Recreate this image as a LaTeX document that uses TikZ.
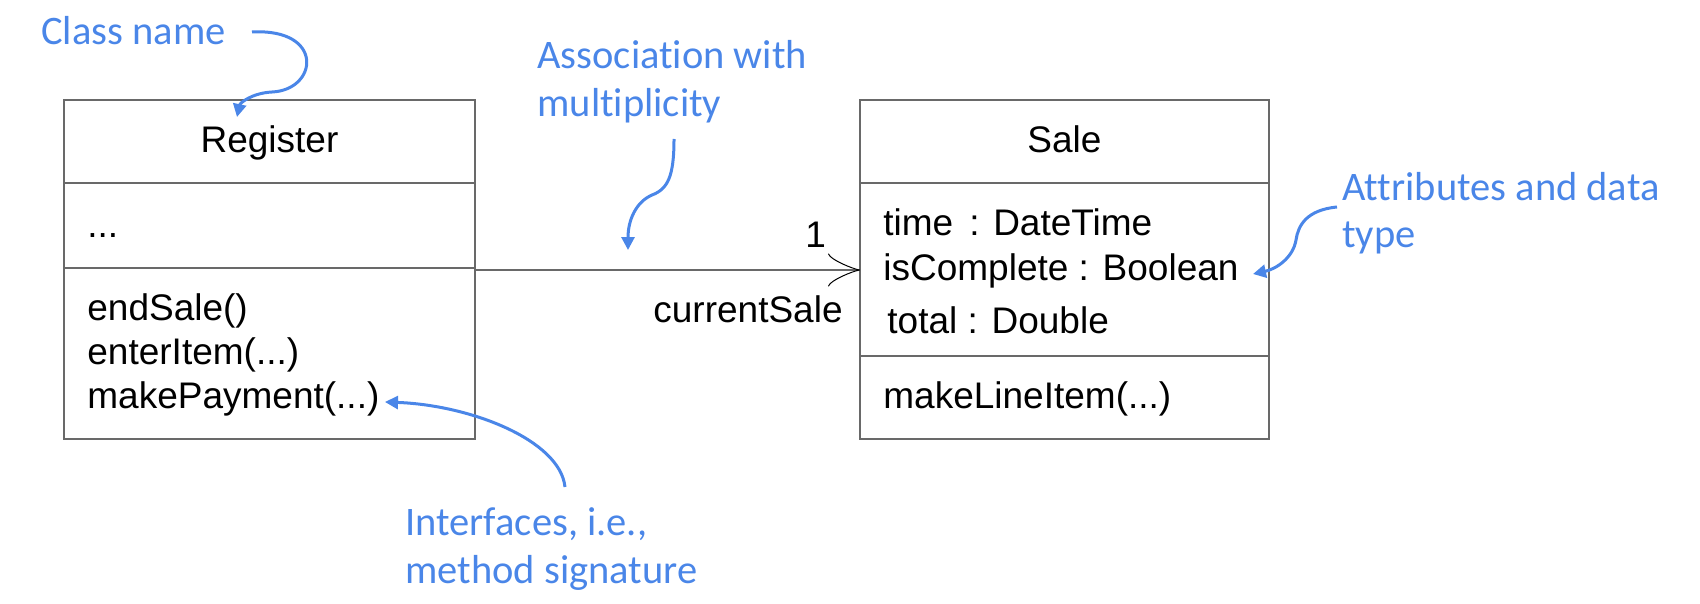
\documentclass[tikz,border=0pt]{standalone}
\usepackage{fontspec}
\setmainfont{Liberation Sans}
\newfontfamily\annofont[Ligatures=NoCommon]{Carlito}
\usetikzlibrary{arrows.meta}
\definecolor{annoblue}{RGB}{74,134,232}
\definecolor{umlgray}{RGB}{105,105,105}
\begin{document}
\begin{tikzpicture}[x=0.5pt,y=-0.5pt,
  umlbox/.style={draw=umlgray, line width=1pt, inner sep=0pt, outer sep=0pt, anchor=north west},
  umlline/.style={draw=umlgray, line width=1pt},
  umltext/.style={font=\fontsize{18.5}{22}\selectfont, inner sep=0pt, anchor=base west},
  annotext/.style={font=\annofont\fontsize{20.25}{24}\selectfont, text=annoblue, inner sep=0pt, align=left, anchor=base west},
  annoarrow/.style={draw=annoblue, line width=1.5pt, -{Triangle[length=6.5pt,width=6.5pt]}}]
\useasboundingbox (0,0) rectangle (1700,604);

% class boxes
\node[umlbox, minimum width=205.5pt, minimum height=169.5pt] (reg) at (64,100) {};
\node[umlbox, minimum width=204.5pt, minimum height=169.5pt] (sale) at (860,100) {};

\coordinate (div1) at (0,183);
\coordinate (div2) at (0,268);
\coordinate (div3) at (0,356);
\coordinate (assoc) at (0,270);

\draw[umlline] (reg.west |- div1) -- (reg.east |- div1);
\draw[umlline] (reg.west |- div2) -- (reg.east |- div2);
\draw[umlline] (sale.west |- div1) -- (sale.east |- div1);
\draw[umlline] (sale.west |- div3) -- (sale.east |- div3);

% Register contents
\node[umltext, anchor=base] (regname) at (269.5,153) {Register};
\node[umltext] (regattr) at (87,237) {...};
\node[umltext] (m1) at (87,320) {endSale()};
\node[umltext] (m2) at (87,364) {enterItem(...)};
\node[umltext] (m3) at (87,408) {makePayment(...)};

% Sale contents
\node[umltext, anchor=base] (salename) at (1064.5,153) {Sale};
\node[umltext] (a1) at (883,235) {time\hspace{8pt}: DateTime};
\node[umltext] (a2) at (883,280) {isComplete : Boolean};
\node[umltext] (a3) at (887,333) {total : Double};
\node[umltext] (s1) at (883,408) {makeLineItem(...)};

% association
\draw[umlline, -{Classical TikZ Rightarrow[length=16pt,width=16.5pt,black,line width=0.5pt]}]
  (reg.east |- assoc) -- (sale.west |- assoc);
\node[umltext] (mult) at (805,248) {1};
\node[umltext, anchor=base east] (role) at (843,322) {currentSale};

% annotations (base anchor = baseline of last line)
\node[annotext] (cls) at (41,45) {Class name};
\node[annotext] (asc) at (537,117) {Association with\\multiplicity};
\node[annotext] (att) at (1342,248) {Attributes and data\\type};
\node[annotext] (itf) at (405,583) {Interfaces, i.e.,\\method signature};

\coordinate (clsS) at (252,32);
\coordinate (clsT) at (237,117);
\draw[annoarrow] (clsS) .. controls (325,28) and (318,90) .. (272,92)
  .. controls (252,93) and (240,103) .. (clsT);

\coordinate (ascS) at (674,139);
\coordinate (ascT) at (628,250);
\draw[annoarrow] (ascS) .. controls (674,176) and (668,189) .. (652,195)
  .. controls (636,202) and (628,220) .. (ascT);

\coordinate (attS) at (1337,207);
\coordinate (attT) at (1253,274);
\draw[annoarrow] (attS) .. controls (1306,210) and (1298,226) .. (1296,240)
  .. controls (1293,258) and (1276,269) .. (attT);

\coordinate (itfS) at (565,487);
\coordinate (itfT) at (385,402);
\draw[annoarrow] (itfS) .. controls (560,440) and (470,405) .. (itfT);
\end{tikzpicture}
\end{document}
